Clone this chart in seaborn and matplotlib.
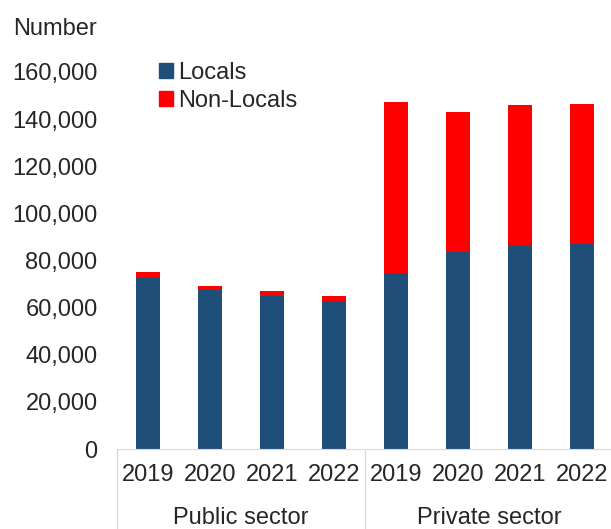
import pandas as pd
import matplotlib.pyplot as plt
import matplotlib.patches as mpatches
import matplotlib.transforms as mtransforms
import seaborn as sns

# data
sectors = ['Public sector', 'Private sector']
years = ['2019', '2020', '2021', '2022']
locals_public = [73100, 67500, 64800, 62800]
total_public = [75100, 69000, 67200, 65100]
locals_private = [74600, 83500, 86600, 87000]
total_private = [147300, 142900, 145900, 146300]

df = pd.DataFrame({
    'key': [s + ' ' + y for s in sectors for y in years],
    'year': years * 2,
    'locals': locals_public + locals_private,
    'total': total_public + total_private,
})
order = list(df['key'])

sns.set_style('white')
plt.rcParams['font.family'] = ['Liberation Sans', 'DejaVu Sans']

blue = '#1F4E79'
red = '#FF0000'
fs = 17

fig = plt.figure(figsize=(6.11, 5.29), dpi=100)
ax = fig.add_axes([117 / 611, 80 / 529, 496 / 611, 377 / 529])

sns.barplot(data=df, x='key', y='total', order=order, color=red,
            saturation=1, width=0.4, linewidth=0, ax=ax)
sns.barplot(data=df, x='key', y='locals', order=order, color=blue,
            saturation=1, width=0.4, linewidth=0, ax=ax)

ax.set_xlim(-0.5, 7.5)
ax.set_ylim(0, 160000)
ax.set_yticks(range(0, 160001, 20000))
ax.set_yticklabels([f'{v:,}' for v in range(0, 160001, 20000)])
ax.set_xticks(range(len(order)))
ax.set_xticklabels(df['year'])
ax.set_xlabel('')
ax.set_ylabel('')
ax.tick_params(axis='y', length=0, pad=14, labelsize=fs)
ax.tick_params(axis='x', length=0, pad=11, labelsize=fs)

for s in ['left', 'top', 'right']:
    ax.spines[s].set_visible(False)
ax.spines['bottom'].set_color('#d9d9d9')

# category box lines under the axis
trans = mtransforms.blended_transform_factory(ax.transData, ax.transAxes)
for xv in [-0.5, 3.5, 7.5]:
    ax.plot([xv, xv], [0, -0.22], transform=trans, color='#d9d9d9',
            lw=1, clip_on=False)
for i, s in enumerate(sectors):
    ax.text(1.5 + 4 * i, -0.182, s, transform=trans, ha='center',
            va='center', fontsize=fs)

fig.text(13 / 611, 1 - 29 / 529, 'Number', ha='left', va='center', fontsize=fs)

handles = [mpatches.Patch(color=blue, label='Locals'),
           mpatches.Patch(color=red, label='Non-Locals')]
fig.legend(handles=handles, loc='upper left',
           bbox_to_anchor=(159 / 611, 1 - 62 / 529), frameon=False,
           fontsize=fs, handlelength=0.6, handleheight=0.6,
           handletextpad=0.2, labelspacing=0.25, borderpad=0,
           borderaxespad=0)

fig.savefig('out.png', dpi=100)
